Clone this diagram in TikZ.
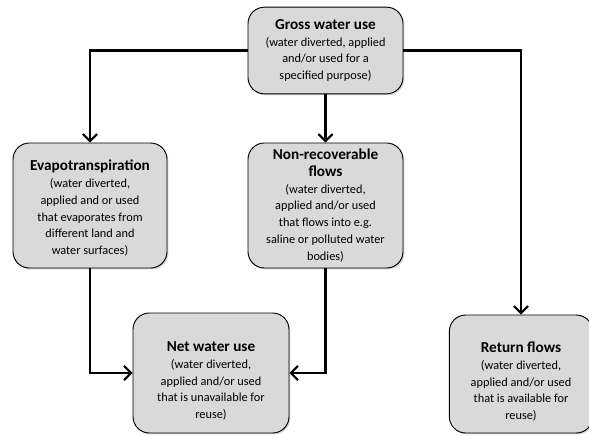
\documentclass[tikz,border=0pt]{standalone}
\usepackage{fontspec}
\setmainfont{Carlito}
\usetikzlibrary{arrows.meta,shadows}
\newcommand{\boxhead}[1]{{\fontsize{13}{15}\selectfont\bfseries #1}}

\begin{document}
\begin{tikzpicture}[x=0.03cm, y=-0.03cm,
	box/.style={draw, thick, rounded corners=14pt, fill=black!15, align=center,
		inner sep=2pt, font=\fontsize{10.5}{14.3}\selectfont,
		drop shadow={shadow xshift=1.2pt, shadow yshift=-1.2pt, opacity=0.35}},
	flow/.style={line width=2pt, -{Straight Barb[length=6pt, width=12pt, line width=1.8pt]}}]
	\useasboundingbox (0,0) rectangle (589,435);
	\node[box, minimum width=4.65cm, minimum height=2.6cm] (gross) at (325.5, 50.5)
		{\boxhead{Gross water use}\\(water diverted, applied\\and/or used for a\\specified purpose)};
	\node[box, minimum width=4.62cm, minimum height=3.75cm] (evap) at (90, 205.5)
		{\boxhead{\rule{0pt}{14pt}Evapotranspiration}\\(water diverted,\\applied and or used\\that evaporates from\\different land and\\water surfaces)};
	\node[box, minimum width=4.65cm, minimum height=3.75cm] (nonrec) at (325.5, 205.5)
		{\boxhead{Non-recoverable}\\\boxhead{flows}\\(water diverted,\\applied and/or used\\that flows into e.g.\\saline or polluted water\\bodies)};
	\node[box, minimum width=4.68cm, minimum height=3.6cm] (net) at (211, 373)
		{\boxhead{\rule{0pt}{22pt}Net water use}\\(water diverted,\\applied and/or used\\that is unavailable for\\reuse)};
	\node[box, minimum width=4.3cm, minimum height=3.54cm] (ret) at (521, 374)
		{\boxhead{\rule{0pt}{22pt}Return flows}\\(water diverted,\\applied and/or used\\that is available for\\reuse)};
	\draw[flow] (gross.west) -| (evap.north);
	\draw[flow] (gross.east) -| (ret.north);
	\draw[flow] (gross.south) -- (nonrec.north);
	\draw[flow] (evap.south) |- (net.west);
	\draw[flow] (nonrec.south) |- (net.east);
\end{tikzpicture}
\end{document}
